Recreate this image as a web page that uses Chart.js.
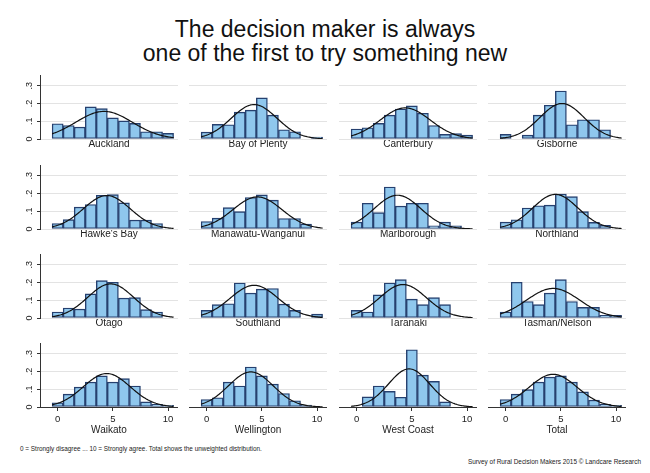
<!DOCTYPE html>
<html lang="en">
<head>
  <meta charset="UTF-8">
  <title>The decision maker is always one of the first to try something new</title>

  <!-- Chart.js -->
  <script src="https://cdn.jsdelivr.net/npm/chart.js@4"></script>

  <style>
    * {
      margin: 0;
      padding: 0;
      box-sizing: border-box;
    }

    body {
      width: 650px;
      height: 473px;
      position: relative;
      overflow: hidden;
      background: #fff;
      font-family: 'Liberation Sans', Arial, sans-serif;
      color: #111;
    }

    h1 {
      position: absolute;
      top: 17px;
      left: 0;
      width: 650px;
      text-align: center;
      font-size: 23px;
      line-height: 24px;
      font-weight: 400;
    }

    canvas {
      position: absolute;
    }

    .note {
      position: absolute;
      left: 20px;
      top: 445px;
      font-size: 6.4px;
      color: #222;
      white-space: nowrap;
    }

    .credit {
      position: absolute;
      right: 9px;
      top: 458px;
      font-size: 6.4px;
      color: #222;
      white-space: nowrap;
    }
  </style>
</head>

<body>
  <h1>The decision maker is always<br>one of the first to try something new</h1>

  <div class="note">0 = Strongly disagree ... 10 = Strongly agree. Total shows the unweighted distribution.</div>
  <div class="credit">Survey of Rural Decision Makers 2015 © Landcare Research</div>

  <script>
    // score 0..10, share of respondents (density)
    const scores = [0, 1, 2, 3, 4, 5, 6, 7, 8, 9, 10];

    const auckland    = [0.086, 0.076, 0.067, 0.181, 0.171, 0.119, 0.102, 0.088, 0.041, 0.041, 0.032];
    const bayOfPlenty = [0.039, 0.082, 0.080, 0.151, 0.162, 0.231, 0.134, 0.052, 0.041, 0, 0.011];
    const canterbury  = [0.056, 0.063, 0.088, 0.134, 0.169, 0.186, 0.145, 0.076, 0.026, 0.030, 0.022];
    const gisborne    = [0.026, 0, 0.022, 0.134, 0.190, 0.270, 0.080, 0.108, 0.108, 0.052, 0];
    const hawkesBay   = [0.031, 0.053, 0.123, 0.138, 0.190, 0.193, 0.147, 0.050, 0.050, 0.031, 0];
    const manawatu    = [0.042, 0.061, 0.120, 0.098, 0.177, 0.192, 0.162, 0.059, 0.059, 0.028, 0];
    const marlborough = [0.039, 0.145, 0.092, 0.236, 0.129, 0.145, 0.145, 0.018, 0.039, 0.018, 0];
    const northland   = [0.039, 0.052, 0.118, 0.131, 0.134, 0.197, 0.182, 0.098, 0.037, 0.020, 0];
    const otago       = [0.034, 0.056, 0.050, 0.136, 0.210, 0.201, 0.112, 0.115, 0.047, 0.034, 0];
    const southland   = [0.043, 0.075, 0.080, 0.197, 0.140, 0.162, 0.166, 0.078, 0.043, 0, 0.022];
    const taranaki    = [0.043, 0.034, 0.130, 0.197, 0.216, 0.106, 0.075, 0.115, 0.075, 0, 0];
    const tasman      = [0.034, 0.201, 0.093, 0.075, 0.140, 0.216, 0.093, 0.060, 0.060, 0.015, 0.015];
    const waikato     = [0.024, 0.072, 0.112, 0.140, 0.175, 0.140, 0.160, 0.118, 0.029, 0.015, 0.009];
    const wellington  = [0.042, 0.052, 0.140, 0.118, 0.225, 0.175, 0.129, 0.076, 0.035, 0.011, 0];
    const westCoast   = [0, 0.057, 0.118, 0.088, 0.055, 0.322, 0.179, 0.144, 0.029, 0, 0];
    const total       = [0.042, 0.072, 0.098, 0.140, 0.168, 0.175, 0.140, 0.085, 0.039, 0.015, 0.009];

    const regions = ['Auckland', 'Bay of Plenty', 'Canterbury', 'Gisborne',
                     "Hawke's Bay", 'Manawatu-Wanganui', 'Marlborough', 'Northland',
                     'Otago', 'Southland', 'Taranaki', 'Tasman/Nelson',
                     'Waikato', 'Wellington', 'West Coast', 'Total'];
    const values = [auckland, bayOfPlenty, canterbury, gisborne,
                    hawkesBay, manawatu, marlborough, northland,
                    otago, southland, taranaki, tasman,
                    waikato, wellington, westCoast, total];

    // normal curve overlay (mean, sd)
    const curveMean = [4.2, 4.3, 4.4, 5.1, 4.45, 4.6, 3.7, 4.5, 4.8, 4.3, 4.2, 4.3, 4.45, 4.0, 4.75, 4.3];
    const curveSd   = [2.57, 2.06, 2.28, 2.0, 2.12, 2.21, 2.1, 2.05, 2.08, 2.17, 2.12, 2.4, 2.12, 2.02, 1.86, 2.17];

    const yTicks = [0, 0.1, 0.2, 0.3];
    const yTickLabels = ['0', '.1', '.2', '.3'];
    const xTicks = [0, 5, 10];

    // panel geometry (plot areas)
    const plotLeft = [40, 189, 339, 488];
    const plotTop = [75, 165, 254, 343];
    const plotW = 138, plotH = 64;

    const font = "'Liberation Sans', Arial, sans-serif";

    function normalCurve(m, s) {
      const pts = [];
      for (let k = -5; k <= 105; k++) {
        const x = k / 10;
        const y = Math.exp(-(x - m) * (x - m) / (2 * s * s)) / (s * Math.sqrt(2 * Math.PI));
        pts.push({ x: x, y: y });
      }
      return pts;
    }

    // rotated y labels like the original
    const yLabelPlugin = {
      id: 'yLabels',
      afterDraw(chart) {
        const s = chart.scales.y;
        const ctx = chart.ctx;
        ctx.save();
        ctx.font = '9px ' + font;
        ctx.fillStyle = '#222';
        ctx.textAlign = 'center';
        ctx.textBaseline = 'middle';
        yTicks.forEach((v, i) => {
          ctx.save();
          ctx.translate(s.right - 10, s.getPixelForValue(v));
          ctx.rotate(-Math.PI / 2);
          ctx.fillText(yTickLabels[i], 0, 0);
          ctx.restore();
        });
        ctx.restore();
      }
    };

    regions.forEach((name, idx) => {
      const row = Math.floor(idx / 4), col = idx % 4;
      const first = col === 0, last = row === 3;
      const yW = first ? 30 : 0;
      const xH = last ? 29 : 11;
      const w = plotW + yW, h = plotH + xH;

      const cv = document.createElement('canvas');
      cv.width = w;
      cv.height = h;
      cv.style.left = (plotLeft[col] - yW) + 'px';
      cv.style.top = plotTop[row] + 'px';
      cv.style.width = w + 'px';
      cv.style.height = h + 'px';
      document.body.appendChild(cv);

      const bars = scores.map((s, i) => ({ x: s, y: values[idx][i] > 0 ? values[idx][i] : null }));

      new Chart(cv, {
        data: {
          datasets: [{
            type: 'line',
            data: normalCurve(curveMean[idx], curveSd[idx]),
            borderColor: '#111',
            borderWidth: 1.2,
            pointRadius: 0,
            tension: 0,
            order: 0
          }, {
            type: 'bar',
            data: bars,
            backgroundColor: '#8fc7ed',
            borderColor: '#26406f',
            borderWidth: 1.4,
            borderSkipped: false,
            barPercentage: 1,
            categoryPercentage: 1,
            order: 1
          }]
        },
        options: {
          responsive: false,
          animation: false,
          layout: { padding: 0 },
          plugins: {
            legend: { display: false },
            tooltip: { enabled: false }
          },
          scales: {
            x: {
              type: 'linear',
              offset: false,
              min: -1.6,
              max: 10.9,
              afterBuildTicks: s => { s.ticks = xTicks.map(v => ({ value: v })); },
              afterFit: s => { s.height = xH; },
              grid: { display: last, offset: false, drawOnChartArea: false, tickLength: 4, tickColor: '#333' },
              border: { display: last, color: '#333', width: 1 },
              ticks: { display: last, padding: 3, maxRotation: 0, color: '#222', font: { size: 9.5, family: font } },
              title: { display: true, text: name, padding: 0, color: '#222', font: { size: 10, family: font } }
            },
            y: {
              min: 0,
              max: 0.36,
              afterBuildTicks: s => { s.ticks = yTicks.map(v => ({ value: v })); },
              afterFit: s => { s.width = yW; },
              grid: { color: '#e3e3e3', drawTicks: first, tickLength: 3, tickColor: '#333' },
              border: { display: first, color: '#333', width: 1 },
              ticks: { display: false }
            }
          }
        },
        plugins: first ? [yLabelPlugin] : []
      });
    });
  </script>
</body>
</html>
